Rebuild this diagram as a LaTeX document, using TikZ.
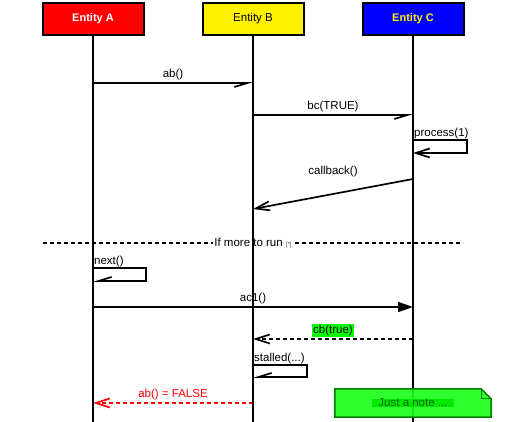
\documentclass[tikz,border=0pt]{standalone}
\usepackage{fontspec}
\setmainfont{Liberation Sans}
\usepackage{tikz}
\usetikzlibrary{arrows.meta,positioning}

\definecolor{notegreen}{RGB}{24,255,24}
\definecolor{noteedge}{RGB}{0,130,0}
\definecolor{notetext}{RGB}{0,100,0}
\definecolor{notebg}{RGB}{0,235,0}

\begin{document}
\begin{tikzpicture}[
  x=1pt, y=-1pt,
  every node/.style={font=\fontsize{11.5}{13}\selectfont},
  entity/.style={draw, line width=2pt, minimum width=101pt, minimum height=32pt, inner sep=0pt},
  life/.style={line width=1.8pt},
  msg/.style={line width=1.7pt, -{Straight Barb[right, length=13pt, width=8pt]}},
  reply/.style={line width=1.7pt, -{Straight Barb[length=14pt, width=9pt]}},
  sync/.style={line width=1.7pt, -{Triangle[length=15pt, width=10pt]}},
  dashmsg/.style={reply, dash pattern=on 4pt off 3pt},
  lbl/.style={inner sep=2pt},
  selflbl/.style={inner sep=1pt, anchor=south west},
]
  \useasboundingbox (0,0) rectangle (514,422);

  % message rows
  \coordinate (r-ab) at (0,83);
  \coordinate (r-bc) at (0,115);
  \coordinate (r-pr) at (0,140);
  \coordinate (r-cbs) at (0,179);
  \coordinate (r-cbe) at (0,209);
  \coordinate (r-nx) at (0,268);
  \coordinate (r-ac) at (0,307);
  \coordinate (r-ct) at (0,339);
  \coordinate (r-st) at (0,365);
  \coordinate (r-ff) at (0,403);
  \coordinate (bot) at (0,422);

  % entities
  \node[entity, fill=red, text=white, font=\fontsize{11}{13}\selectfont\bfseries] (ea) at (93,19) {Entity A};
  \node[entity, fill=yellow] (eb) at (253,19) {Entity B};
  \node[entity, fill=blue, text=yellow, font=\fontsize{11}{13}\selectfont\bfseries] (ec) at (413,19) {Entity C};

  % loop divider
  \coordinate (dl) at (43,243);
  \coordinate (dr) at (463,243);
  \draw[line width=1.6pt, dash pattern=on 4pt off 3pt] (dl) -- node[fill=white, inner sep=1pt] (more)
    {If more to run {\fontsize{6}{7}\selectfont\color{darkgray}[*]}} (dr);

  % messages
  \draw[msg] (ea |- r-ab) -- node[lbl, above] (l-ab) {ab()} (eb |- r-ab);
  \draw[msg] (eb |- r-bc) -- node[lbl, above] (l-bc) {bc(TRUE)} (ec |- r-bc);
  \draw[reply] (ec |- r-pr) -- ++(54,0) -- ++(0,13) -- ++(-54,0);
  \node[selflbl] (l-pr) at (ec |- r-pr) {process(1)};
  \draw[reply] (ec |- r-cbs) -- (eb |- r-cbe);
  \path (ec |- r-cbs) -- node[lbl, above] (l-cb) {callback()} (eb |- r-cbs);

  \draw[msg] (ea |- r-nx) -- ++(53,0) -- ++(0,13) -- ++(-53,0);
  \node[selflbl] (l-nx) at (ea |- r-nx) {next()};
  \draw[sync] (ea |- r-ac) -- node[lbl, above] (l-ac) {ac1()} (ec |- r-ac);
  \draw[dashmsg] (ec |- r-ct) -- node[above=1pt, fill=green, inner sep=1pt] (l-ct) {cb(true)} (eb |- r-ct);
  \draw[msg] (eb |- r-st) -- ++(54,0) -- ++(0,12) -- ++(-54,0);
  \node[selflbl] (l-st) at (eb |- r-st) {stalled(...)};
  \draw[dashmsg, red] (eb |- r-ff) -- node[lbl, above, text=red] (l-ff) {ab() = FALSE} (ea |- r-ff);

  % lifelines
  \draw[life] (ea.south) -- (ea |- bot);
  \draw[life] (eb.south) -- (eb |- bot);
  \draw[life] (ec.south) -- (ec |- bot);

  % note
  \node[minimum width=156pt, minimum height=28pt] (note) at (413,403) {};
  \draw[line width=1.5pt, draw=noteedge, fill=notegreen, fill opacity=0.9]
    (note.south west) -- (note.north west) -- ([xshift=-10pt]note.north east)
    -- ([yshift=-10pt]note.north east) -- (note.south east) -- cycle;
  \draw[line width=1pt, draw=noteedge] ([xshift=-10pt]note.north east)
    -- ([xshift=-10pt, yshift=-10pt]note.north east) -- ([yshift=-10pt]note.north east);
  \node[fill=notebg, text=notetext, inner xsep=6pt, inner ysep=0pt] (notetxt) at (note) {Just a note ...};
\end{tikzpicture}
\end{document}
